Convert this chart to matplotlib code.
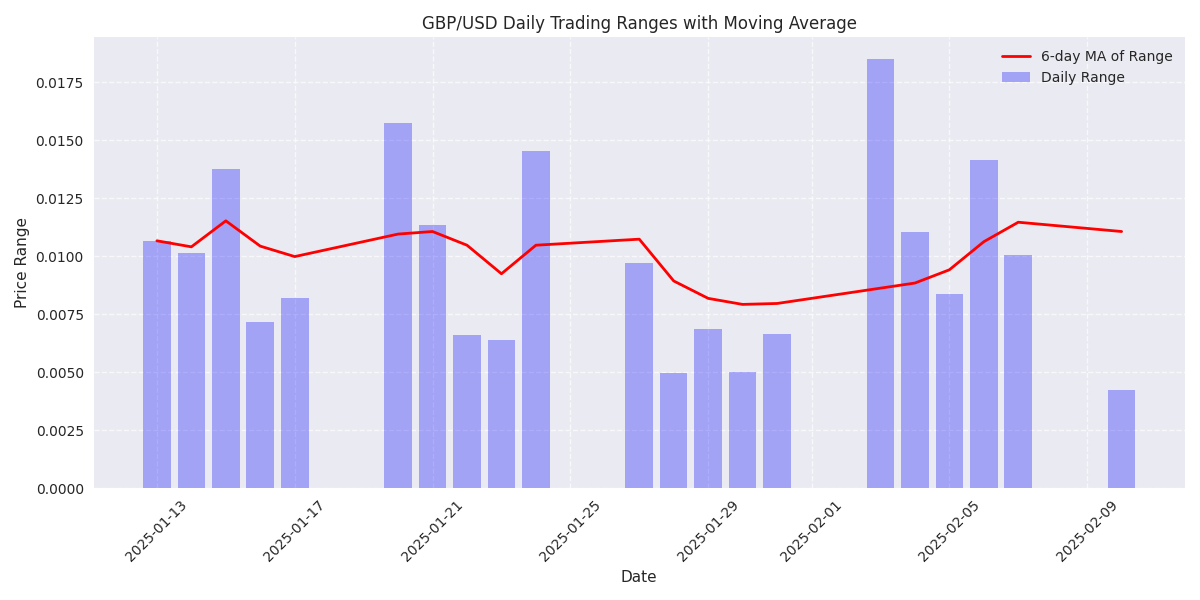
import matplotlib
matplotlib.use("Agg")
import matplotlib.pyplot as plt
import pandas as pd

# fechas (solo dias habiles)
fechas = ["2025-01-13", "2025-01-14", "2025-01-15", "2025-01-16", "2025-01-17",
          "2025-01-20", "2025-01-21", "2025-01-22", "2025-01-23", "2025-01-24",
          "2025-01-27", "2025-01-28", "2025-01-29", "2025-01-30", "2025-01-31",
          "2025-02-03", "2025-02-04", "2025-02-05", "2025-02-06", "2025-02-07",
          "2025-02-10"]

# rango diario (high - low)
rango = [0.01066, 0.01014, 0.01376, 0.00716, 0.00820,
         0.01575, 0.01135, 0.00661, 0.00639, 0.01454,
         0.00971, 0.00496, 0.00687, 0.00502, 0.00665,
         0.01850, 0.01105, 0.00837, 0.01415, 0.01006,
         0.00424]

# media movil 6 dias
media = [0.01066, 0.01040, 0.01152, 0.01043, 0.00998,
         0.01095, 0.01106, 0.01047, 0.00924, 0.01047,
         0.01073, 0.00893, 0.00818, 0.00792, 0.00796,
         0.00862, 0.00884, 0.00941, 0.01062, 0.01146,
         0.01106]

fechas = pd.to_datetime(fechas)

plt.style.use("seaborn-v0_8")
plt.rcParams["font.family"] = ["DejaVu Sans"]
fig, ax = plt.subplots(figsize=(12, 6), dpi=100)

ax.bar(fechas, rango, width=0.8, color="blue", alpha=0.3, label="Daily Range")
ax.plot(fechas, media, color="red", linewidth=2, label="6-day MA of Range")

ax.set_title("GBP/USD Daily Trading Ranges with Moving Average")
ax.set_xlabel("Date")
ax.set_ylabel("Price Range")
ax.grid(True, linestyle="--", alpha=0.7)
ax.legend()
plt.xticks(rotation=45)

plt.tight_layout()
plt.savefig("out.png")
